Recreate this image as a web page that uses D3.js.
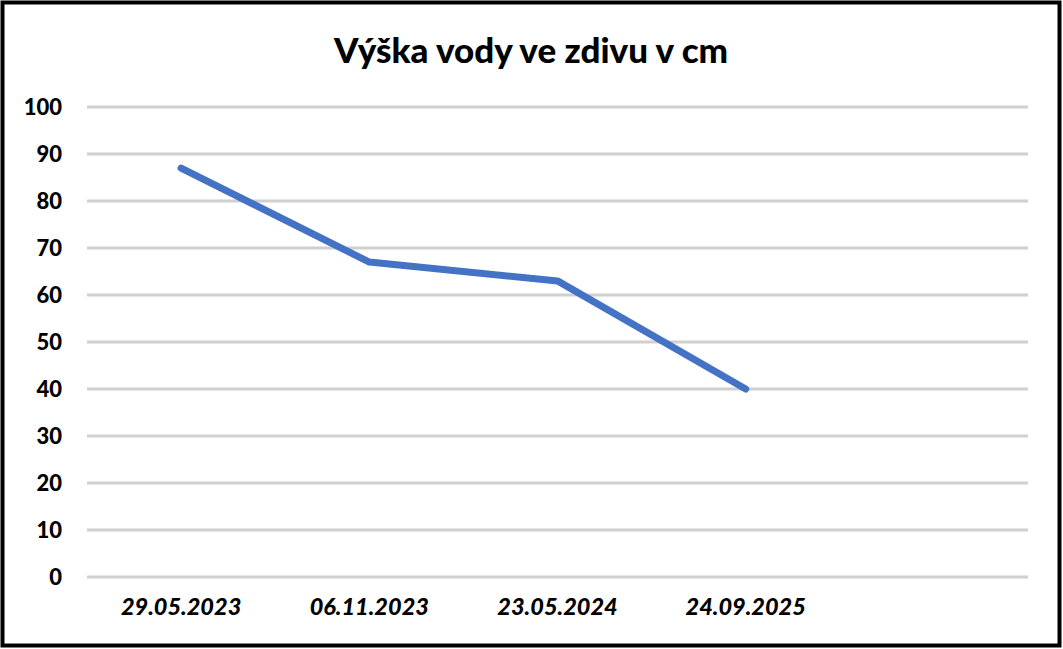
<!DOCTYPE html>
<html><head><meta charset="utf-8">
<script src="https://cdn.jsdelivr.net/npm/d3@7"></script>
<style>body{margin:0;background:#fff}svg{display:block}text{font-family:Lato,"Open Sans",sans-serif;font-weight:900}</style>
</head><body><svg id="c" width="1063" height="649"></svg>
<script>
const categories = ["29.05.2023","06.11.2023","23.05.2024","24.09.2025",""];
const values = [87,67,63,40];
const yTicks = [0,10,20,30,40,50,60,70,80,90,100];
const title = "Výška vody ve zdivu v cm";

const svg = d3.select("#c");
svg.append("rect").attr("x",2.5).attr("y",2.5).attr("width",1057).attr("height",643)
  .attr("fill","#fff").attr("stroke","#000").attr("stroke-width",4);

const x = d3.scaleBand().domain(categories.map((d,i)=>i)).range([87,1028]);
const y = d3.scaleLinear().domain([0,100]).range([577,107]);

svg.append("text").attr("x",531).attr("y",63).attr("text-anchor","middle")
  .attr("font-size",35).attr("fill","#000").text(title);

const g = svg.append("g");
g.selectAll("line.grid").data(yTicks).join("line").attr("class","grid")
  .attr("x1",87).attr("x2",1028).attr("y1",d=>y(d)).attr("y2",d=>y(d))
  .attr("stroke","#d0d0d0").attr("stroke-width",3);

const yAxis = d3.axisLeft(y).tickValues(yTicks).tickSize(0).tickPadding(0);
const ya = svg.append("g").attr("transform","translate(62,0)").call(yAxis);
ya.select(".domain").remove();
ya.selectAll("text").attr("font-size",22).attr("fill","#000").attr("font-family","Lato").attr("font-weight",900).attr("dy","0.35em");

const xAxis = d3.axisBottom(x).tickFormat(i=>categories[i]).tickSize(0).tickPadding(0);
const xa = svg.append("g").attr("transform","translate(0,598)").call(xAxis);
xa.select(".domain").remove();
xa.selectAll("text").attr("font-size",23.5).attr("fill","#000").attr("font-family","Lato").attr("font-weight",900).attr("font-style","italic").attr("dy","0.71em");

const line = d3.line().x((d,i)=>x(i)+x.bandwidth()/2).y(d=>y(d));
svg.append("path").datum(values).attr("d",line).attr("fill","none")
  .attr("stroke","#4472c4").attr("stroke-width",7).attr("stroke-linecap","round").attr("stroke-linejoin","round");
</script></body></html>
